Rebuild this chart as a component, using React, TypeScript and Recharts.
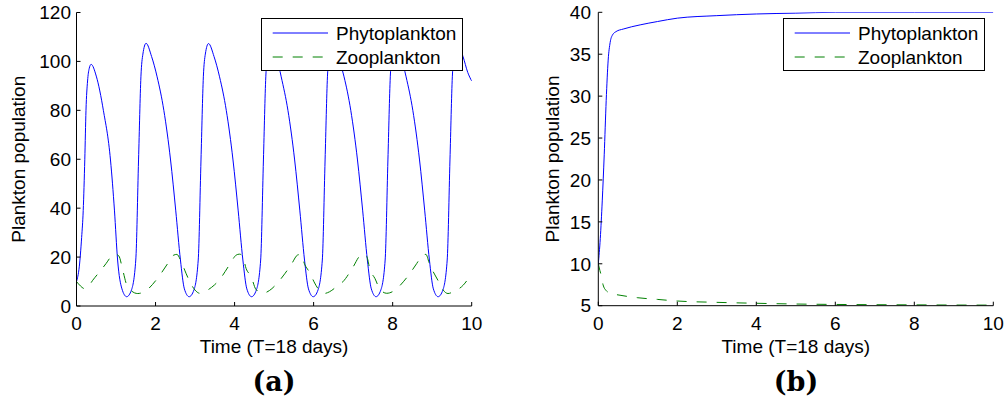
import { LineChart, Line, XAxis, YAxis, Legend } from 'recharts';

// Eixo do tempo comum aos dois painéis
const X_TICKS = [0, 2, 4, 6, 8, 10];
const Y_TICKS_A = [0, 20, 40, 60, 80, 100, 120];
const Y_TICKS_B = [5, 10, 15, 20, 25, 30, 35, 40];

// (a) fitoplâncton oscilante
const PHYTO_A_T = [
  0, 0.07, 0.13, 0.17, 0.21, 0.24, 0.28, 0.32, 0.37, 0.5, 0.68, 0.86, 0.96, 1.04, 1.15, 1.27,
  1.39, 1.5, 1.57, 1.63, 1.68, 1.76, 1.9, 2.04, 2.21, 2.38, 2.51, 2.63, 2.73, 2.85,
  2.97, 3.08, 3.15, 3.21, 3.26, 3.34, 3.48, 3.62, 3.79, 3.96, 4.09, 4.21, 4.31, 4.43,
  4.55, 4.66, 4.73, 4.79, 4.84, 4.92, 5.06, 5.18, 5.35, 5.52, 5.65, 5.77, 5.87, 5.99,
  6.11, 6.22, 6.29, 6.35, 6.4, 6.48, 6.62, 6.77, 6.94, 7.11, 7.24, 7.36, 7.46, 7.58,
  7.7, 7.81, 7.88, 7.94, 7.99, 8.07, 8.21, 8.34, 8.51, 8.68, 8.81, 8.93, 9.03, 9.15,
  9.27, 9.38, 9.45, 9.51, 9.56, 9.64, 9.78, 9.9, 10,
];
const PHYTO_A_V = [
  10, 16, 28, 39, 60, 80, 92, 97, 98.8, 94, 80, 59.7, 39.2, 18.8, 7, 3.8,
  6.5, 18.8, 59.7, 93.7, 103, 107.4, 102, 93.7, 80, 59.7, 39.2, 18.8, 7, 3.8,
  6.5, 18.8, 59.7, 93.7, 103, 107.3, 102, 93.7, 80, 59.7, 39.2, 18.8, 7, 3.8,
  6.5, 18.8, 59.7, 93.7, 103, 107.3, 102, 93.7, 80, 59.7, 39.2, 18.8, 7, 3.8,
  6.5, 18.8, 59.7, 93.7, 103, 107.3, 102, 93.7, 80, 59.7, 39.2, 18.8, 7, 3.8,
  6.5, 18.8, 59.7, 93.7, 103, 107.3, 102, 93.7, 80, 59.7, 39.2, 18.8, 7, 3.8,
  6.5, 18.8, 59.7, 93.7, 103, 107.3, 102, 95.5, 92,
];

// (a) zooplâncton
const ZOO_A_T = [
  0, 0.1, 0.2, 0.3, 0.41, 0.6, 0.75, 0.88, 0.97, 1.07, 1.17, 1.27, 1.38, 1.55, 1.8,
  2.0, 2.16, 2.31, 2.46, 2.54, 2.64, 2.77, 2.88, 3.0, 3.12, 3.23, 3.49, 3.61, 3.87,
  4.04, 4.12, 4.2, 4.29, 4.42, 4.54, 4.71, 4.88, 5.11, 5.28, 5.45, 5.59, 5.67, 5.78,
  5.91, 6.01, 6.14, 6.26, 6.4, 6.58, 6.74, 7.0, 7.17, 7.26, 7.34, 7.43, 7.55, 7.68,
  7.85, 8.06, 8.27, 8.44, 8.61, 8.76, 8.84, 8.94, 9.07, 9.18, 9.28, 9.4, 9.53, 9.79, 10,
];
const ZOO_A_V = [
  10, 8.2, 7.1, 8.0, 10.5, 14.3, 17.4, 20.3, 21.3, 20.5, 14.7, 8.6, 6.3, 5.1, 6.8,
  10.3, 13.8, 17.4, 20.8, 21.1, 18.5, 13.4, 9.5, 6.5, 5.2, 5.8, 8.6, 10.6, 16.8,
  20.8, 21.2, 20.6, 15.4, 12, 6.8, 5.2, 6.3, 9.9, 13.4, 17.4, 20.8, 21.1, 16.8,
  13.4, 9.9, 6.5, 5.1, 5.8, 7.9, 9.9, 16, 20.5, 21.2, 20.4, 14.7, 11.3, 6.8,
  5.2, 6.5, 9.9, 13.4, 17.4, 20.8, 21.1, 16.8, 12.7, 9.5, 6.5, 5.1, 5.8, 8.6, 13.4,
];

// (b) equilíbrio estável
const PHYTO_B_T = [0, 0.05, 0.1, 0.15, 0.2, 0.25, 0.3, 0.36, 0.45, 0.63, 1.06, 1.5, 2, 3, 4, 5, 6, 8, 10];
const PHYTO_B_V = [10, 13, 17.5, 23, 29.5, 34.3, 36.4, 37.3, 37.7, 38.0, 38.5, 38.9, 39.3, 39.6, 39.8, 39.9, 40, 40, 40];
const ZOO_B_T = [0, 0.04, 0.085, 0.12, 0.2, 0.3, 0.55, 1, 1.5, 2, 3, 4, 5, 6, 7, 8, 9, 10];
const ZOO_B_V = [10, 9.2, 8.4, 7.5, 6.8, 6.5, 6.25, 5.95, 5.75, 5.56, 5.4, 5.29, 5.2, 5.15, 5.12, 5.1, 5.08, 5.07];

const zip = (t: number[], v: number[]) => t.map((x, i) => ({ t: x, v: v[i] }));

const FONT = "'Liberation Sans', Arial, Helvetica, sans-serif";
const BLUE = '#0000ff';
const GREEN = '#008000';
const DASH = '10 10';
const tickStyle = { fill: '#000', fontSize: 19, fontFamily: FONT };

const LEG_W = 202;
const LEG_H = 53;

const PlotLegend = (props: any) => {
  const items = props.payload || [];
  return (
    <svg width={LEG_W} height={LEG_H} style={{ display: 'block' }}>
      <rect x={0.5} y={0.5} width={LEG_W - 1} height={LEG_H - 1} fill="#fff" stroke="#000" />
      {items.map((it: any, i: number) => {
        const y = 15 + i * 24;
        return (
          <g key={it.value}>
            <line x1={11.7} x2={67} y1={y} y2={y} stroke={it.color} strokeDasharray={it.payload?.strokeDasharray} />
            <text x={75} y={y + 6.8} fontSize={19} fontFamily={FONT} fill="#000">
              {it.value}
            </text>
          </g>
        );
      })}
    </svg>
  );
};

type PanelProps = {
  phyto: { t: number; v: number }[];
  zoo: { t: number; v: number }[];
  yDomain: [number, number];
  yTicks: number[];
  yAxisWidth: number;
  top: number;
  right: number;
  xAxisHeight: number;
  yTickMargin: number;
  yTitleX: number;
  legendLeft: number;
};

const W = 503;
const H = 360;

const Panel = (p: PanelProps) => {
  const plotCenterX = (p.yAxisWidth + (W - p.right)) / 2;
  const plotCenterY = (p.top + (H - p.xAxisHeight)) / 2;
  return (
    <LineChart width={W} height={H} margin={{ top: p.top, right: p.right, bottom: 0, left: 0 }}>
      <XAxis
        dataKey="t"
        type="number"
        domain={[0, 10]}
        ticks={X_TICKS}
        interval={0}
        height={p.xAxisHeight}
        tickSize={-4}
        tickMargin={14.5}
        tick={tickStyle}
        stroke="#000"
        allowDataOverflow
        label={() => (
          <text x={plotCenterX} y={353} textAnchor="middle" fontSize={19} fontFamily={FONT} fill="#000">
            Time (T=18 days)
          </text>
        )}
      />
      <XAxis
        xAxisId="top"
        orientation="top"
        type="number"
        domain={[0, 10]}
        ticks={X_TICKS}
        interval={0}
        height={0}
        tickSize={-4}
        tickFormatter={() => ''}
        stroke="#000"
        allowDataOverflow
      />
      <YAxis
        type="number"
        domain={p.yDomain}
        ticks={p.yTicks}
        interval={0}
        width={p.yAxisWidth}
        tickSize={-4}
        tickMargin={p.yTickMargin}
        tick={tickStyle}
        stroke="#000"
        allowDataOverflow
        label={() => (
          <text
            x={p.yTitleX}
            y={plotCenterY}
            transform={`rotate(-90, ${p.yTitleX}, ${plotCenterY})`}
            textAnchor="middle"
            fontSize={19}
            fontFamily={FONT}
            fill="#000"
          >
            Plankton population
          </text>
        )}
      />
      <YAxis
        yAxisId="right"
        orientation="right"
        type="number"
        domain={p.yDomain}
        ticks={p.yTicks}
        interval={0}
        width={0}
        tickSize={-4}
        tickFormatter={() => ''}
        stroke="#000"
        allowDataOverflow
      />
      <Legend
        layout="vertical"
        align="center"
        verticalAlign="middle"
        content={PlotLegend}
        wrapperStyle={{ left: p.legendLeft, top: 18.3, width: LEG_W, height: LEG_H }}
      />
      <Line
        data={p.phyto}
        dataKey="v"
        name="Phytoplankton"
        type="monotone"
        stroke={BLUE}
        strokeWidth={1}
        dot={false}
        activeDot={false}
        isAnimationActive={false}
      />
      <Line
        data={p.zoo}
        dataKey="v"
        name="Zooplankton"
        type="monotone"
        stroke={GREEN}
        strokeWidth={1}
        strokeDasharray={DASH}
        dot={false}
        activeDot={false}
        isAnimationActive={false}
      />
    </LineChart>
  );
};

const subLabel = {
  position: 'absolute' as const,
  top: 366,
  width: 200,
  textAlign: 'center' as const,
  fontFamily: "'DejaVu Serif', serif",
  fontWeight: 'bold' as const,
  fontSize: 27,
  color: '#000',
};

export default function App() {
  return (
    <div style={{ position: 'absolute', left: 0, top: 0, width: 1006, height: 411, background: '#fff' }}>
      <div style={{ position: 'absolute', left: 0, top: 0 }}>
        <Panel
          phyto={zip(PHYTO_A_T, PHYTO_A_V)}
          zoo={zip(ZOO_A_T, ZOO_A_V)}
          yDomain={[0, 120]}
          yTicks={Y_TICKS_A}
          yAxisWidth={76.5}
          top={12.5}
          right={31.3}
          xAxisHeight={54}
          yTickMargin={9.5}
          yTitleX={25.3}
          legendLeft={261}
        />
      </div>
      <div style={{ position: 'absolute', left: 503, top: 0 }}>
        <Panel
          phyto={zip(PHYTO_B_T, PHYTO_B_V)}
          zoo={zip(ZOO_B_T, ZOO_B_V)}
          yDomain={[5, 40]}
          yTicks={Y_TICKS_B}
          yAxisWidth={95.3}
          top={12.3}
          right={12.7}
          xAxisHeight={54.3}
          yTickMargin={11.3}
          yTitleX={55.6}
          legendLeft={279.7}
        />
      </div>
      <div style={{ ...subLabel, left: 174 }}>(a)</div>
      <div style={{ ...subLabel, left: 696 }}>(b)</div>
    </div>
  );
}
